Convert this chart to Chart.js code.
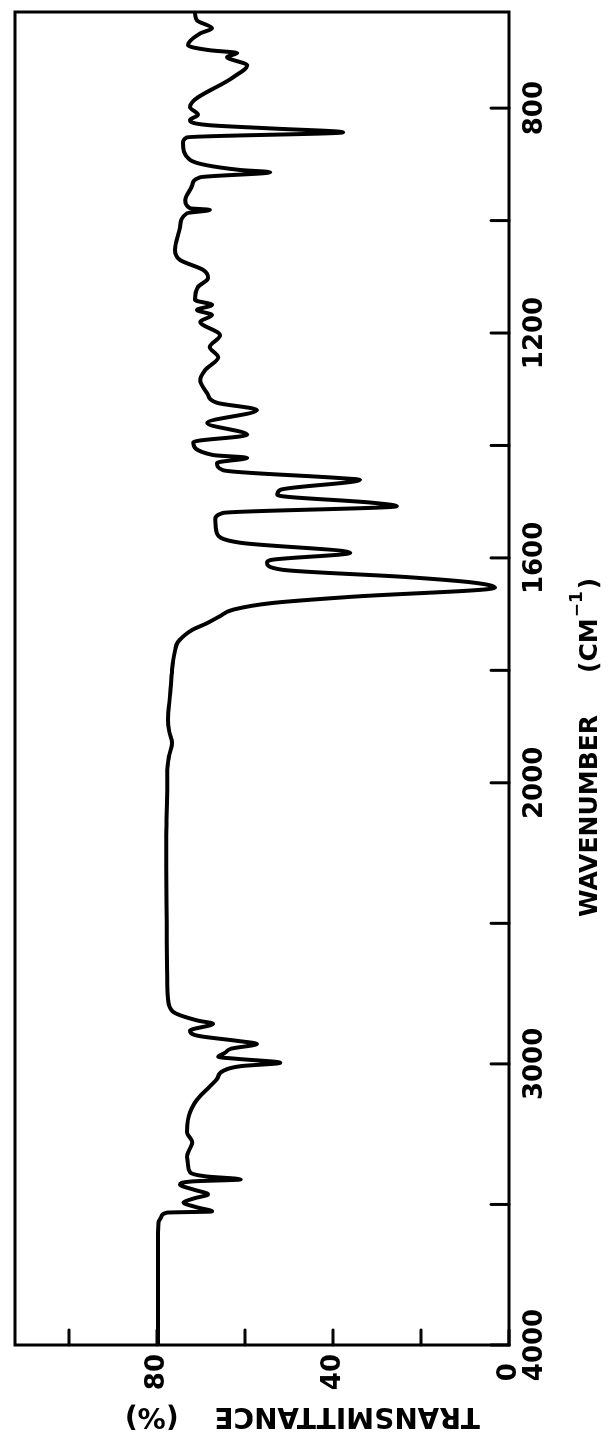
<!DOCTYPE html>
<html>
<head>
<meta charset="utf-8">
<script src="https://cdn.jsdelivr.net/npm/chart.js@4.4.0/dist/chart.umd.min.js"></script>
<style>
  html, body { margin: 0; padding: 0; background: #fff; overflow: hidden; }
  #rot {
    position: absolute; left: 0; top: 0;
    width: 1436px; height: 608px;
    transform-origin: 0 0;
    transform: translate(0, 1436px) rotate(-90deg);
  }
</style>
</head>
<body>
<div id="rot"><canvas id="grafico" width="1436" height="608"></canvas></div>
<script>
// spectrum (wavenumber cm-1 / transmittance %)
const wavenumber = [4000, 3800, 3600, 3564, 3543, 3529, 3525, 3510, 3493, 3478, 3464, 3448, 3429, 3418, 3411, 3400,
  3386, 3355, 3329, 3300, 3279, 3243, 3200, 3171, 3140, 3114, 3080, 3054, 3025, 3008, 2996, 2982, 2975, 2960,
  2946, 2929, 2918, 2900, 2882, 2857, 2846, 2814, 2768, 2700, 2500, 2300, 2186, 2100, 2000, 1977, 1950, 1929,
  1910, 1888, 1840, 1799, 1780, 1764, 1750, 1740, 1728, 1716, 1704, 1692, 1680, 1669, 1653, 1644, 1634, 1621,
  1609, 1604, 1591, 1573, 1556, 1532, 1520, 1508, 1502, 1488, 1479, 1461, 1458, 1444, 1431, 1422, 1417, 1394,
  1381, 1360, 1337, 1324, 1307, 1284, 1266, 1243, 1225, 1204, 1180, 1168, 1159, 1150, 1141, 1118, 1102, 1088,
  1070, 1052, 1012, 987, 981, 978, 964, 937, 923, 914, 910, 892, 862, 852, 843, 836, 830, 821, 812, 798,
  745, 724, 709, 702, 697, 688, 667, 658, 644, 631];
const transmittance = [79.8, 79.8, 79.8, 79.7, 79.0, 77.7, 67.5, 71.0, 74.0, 71.5, 68.4, 71.5, 74.8, 72.0, 61.0, 69.0,
  72.5, 73.0, 73.2, 72.5, 72.0, 73.2, 73.0, 72.5, 71.5, 70.2, 68.0, 66.4, 65.0, 61.0, 52.0, 61.8, 66.1, 64.5,
  63.2, 57.3, 61.8, 70.7, 72.5, 67.3, 70.7, 76.4, 77.5, 77.7, 77.8, 77.9, 77.9, 77.8, 77.7, 77.7, 77.2, 76.6,
  77.2, 77.5, 77.0, 76.6, 76.3, 75.9, 75.3, 74.1, 72.0, 68.6, 65.8, 62.7, 53.6, 35.5, 3.2, 8.0, 23.4, 51.6,
  55.0, 54.3, 36.1, 61.1, 66.4, 66.8, 65.0, 25.5, 30.9, 52.7, 52.0, 33.9, 38.4, 65.0, 66.4, 59.5, 67.3, 71.8,
  59.5, 68.6, 57.3, 66.4, 68.6, 70.2, 69.1, 66.1, 68.0, 65.7, 70.2, 67.5, 70.9, 67.5, 71.4, 70.7, 68.4, 69.5,
  74.8, 75.9, 74.8, 73.2, 68.0, 72.5, 73.6, 72.0, 70.2, 54.3, 61.1, 72.5, 74.1, 73.2, 37.7, 54.3, 68.6, 72.5, 70.7, 72.5,
  62.7, 59.5, 64.1, 61.8, 68.0, 73.0, 70.2, 67.5, 70.9, 71.4];

const wavenumberTicks = [4000, 3500, 3000, 2500, 2000, 1800, 1600, 1400, 1200, 1000, 800];
const wavenumberLabels = ['4000', '', '3000', '', '2000', '', '1600', '', '1200', '', '800'];
const transTicks = [0, 20, 40, 60, 80, 100];
const transLabels = ['0', '', '40', '', '80', ''];
const wavenumberEnd = 629;
const transMax = 112.3;

// scale changes at 2000 cm-1 (double expansion below)
function paraEixo(w) {
  return w >= 2000 ? 4000 - w : 2000 + 2 * (2000 - w);
}

const pontos = wavenumber.map((w, i) => ({x: paraEixo(w), y: transmittance[i]}));

// moldura, tiques para dentro e titulos dos eixos
const molduraPlugin = {
  id: 'moldura',
  afterDraw(chart) {
    const ctx = chart.ctx;
    const a = chart.chartArea;
    const sx = chart.scales.x, sy = chart.scales.y;
    ctx.save();
    ctx.strokeStyle = '#000';
    ctx.lineWidth = 3;
    ctx.strokeRect(a.left, a.top, a.right - a.left, a.bottom - a.top);
    ctx.lineCap = 'round';
    wavenumberTicks.forEach(w => {
      const px = sx.getPixelForValue(paraEixo(w));
      ctx.beginPath(); ctx.moveTo(px, a.bottom); ctx.lineTo(px, a.bottom - 18); ctx.stroke();
    });
    transTicks.forEach(t => {
      const py = sy.getPixelForValue(t);
      ctx.beginPath(); ctx.moveTo(a.left, py); ctx.lineTo(a.left + 15, py); ctx.stroke();
    });

    ctx.fillStyle = '#000';
    ctx.textBaseline = 'middle';
    ctx.textAlign = 'left';
    ctx.font = 'bold 25px "DejaVu Sans"';
    ctx.fillText('WAVENUMBER', 519, 590);
    let xx = 763;
    ctx.fillText('(CM', xx, 590);
    xx += ctx.measureText('(CM').width;
    ctx.font = 'bold 17px "DejaVu Sans"';
    ctx.fillText('\u2212' + '1', xx + 1, 578);
    xx += ctx.measureText('\u22121').width + 3;
    ctx.font = 'bold 25px "DejaVu Sans"';
    ctx.fillText(')', xx, 590);

    ctx.translate(21, 0);
    ctx.rotate(-Math.PI / 2);
    ctx.font = 'bold 28px "DejaVu Sans"';
    ctx.textAlign = 'left';
    ctx.fillText('TRANSMITTANCE', -480, 0);
    ctx.textAlign = 'right';
    ctx.fillText('(%)', -125, 0);
    ctx.restore();
  }
};

const fonteTiques = {family: 'DejaVu Sans', size: 26, weight: 'bold'};

new Chart(document.getElementById('grafico').getContext('2d'), {
  type: 'line',
  data: {
    datasets: [{
      data: pontos,
      borderColor: '#000',
      borderWidth: 4,
      pointRadius: 0,
      cubicInterpolationMode: 'monotone',
      borderJoinStyle: 'round',
      borderCapStyle: 'round',
      fill: false
    }]
  },
  options: {
    responsive: false,
    animation: false,
    devicePixelRatio: 1,
    layout: {padding: {top: 15, right: 12, left: 0, bottom: 0}},
    plugins: {legend: {display: false}, tooltip: {enabled: false}},
    scales: {
      x: {
        type: 'linear',
        min: 0,
        max: paraEixo(wavenumberEnd),
        afterBuildTicks: s => { s.ticks = wavenumberTicks.map(w => ({value: paraEixo(w)})); },
        afterFit: s => { s.height = 99; s.paddingLeft = 0; s.paddingRight = 0; },
        grid: {display: false, drawTicks: false},
        border: {display: false},
        ticks: {
          autoSkip: false, maxRotation: 0, padding: 11, color: '#000', font: fonteTiques,
          callback: (v, i) => wavenumberLabels[i]
        }
      },
      y: {
        min: 0,
        max: transMax,
        afterBuildTicks: s => { s.ticks = transTicks.map(t => ({value: t})); },
        afterFit: s => { s.width = 91; s.paddingTop = 0; s.paddingBottom = 0; },
        grid: {display: false, drawTicks: false},
        border: {display: false},
        ticks: {
          autoSkip: false, padding: 9, crossAlign: 'center', color: '#000', font: fonteTiques,
          callback: (v, i) => transLabels[i]
        }
      }
    }
  },
  plugins: [molduraPlugin]
});
</script>
</body>
</html>
